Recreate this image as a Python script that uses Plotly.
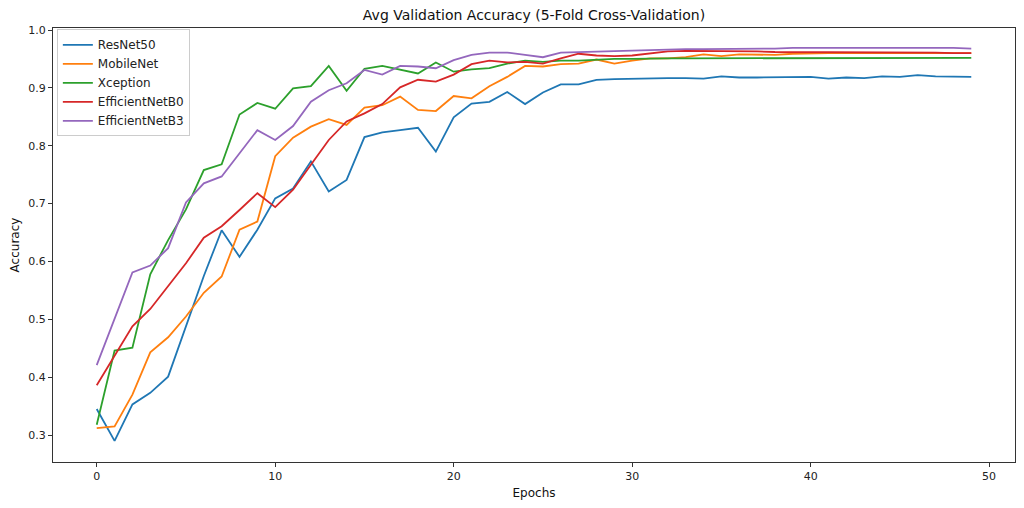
import plotly.graph_objects as go

epochs = list(range(50))

resnet50 = [0.345, 0.290, 0.353, 0.373, 0.401, 0.490, 0.575, 0.654, 0.608, 0.655,
            0.709, 0.726, 0.773, 0.721, 0.741, 0.815, 0.823, 0.827, 0.831, 0.790,
            0.849, 0.873, 0.876, 0.893, 0.872, 0.892, 0.906, 0.906, 0.914, 0.915,
            0.916, 0.917, 0.917, 0.917, 0.916, 0.920, 0.918, 0.918, 0.918, 0.919,
            0.919, 0.916, 0.918, 0.917, 0.920, 0.919, 0.922, 0.920, 0.919, 0.919]

mobilenet = [0.312, 0.315, 0.370, 0.443, 0.469, 0.505, 0.546, 0.574, 0.655, 0.669,
             0.782, 0.814, 0.833, 0.846, 0.836, 0.866, 0.870, 0.885, 0.862, 0.860,
             0.886, 0.882, 0.903, 0.919, 0.938, 0.937, 0.941, 0.942, 0.949, 0.942,
             0.947, 0.951, 0.951, 0.953, 0.958, 0.955, 0.958, 0.958, 0.957, 0.959,
             0.960, 0.960, 0.960, 0.960, 0.961, 0.961, 0.961, 0.961, 0.960, 0.960]

xception = [0.318, 0.446, 0.451, 0.578, 0.637, 0.690, 0.758, 0.768, 0.854, 0.874,
            0.864, 0.899, 0.903, 0.938, 0.895, 0.933, 0.938, 0.931, 0.925, 0.944,
            0.928, 0.932, 0.934, 0.942, 0.947, 0.945, 0.947, 0.947, 0.949, 0.950,
            0.950, 0.951, 0.951, 0.951, 0.951, 0.951, 0.951, 0.952, 0.952, 0.952,
            0.952, 0.952, 0.952, 0.952, 0.952, 0.952, 0.952, 0.952, 0.952, 0.952]

efficientnetb0 = [0.386, 0.436, 0.488, 0.518, 0.557, 0.597, 0.641, 0.661, 0.689, 0.718,
                  0.694, 0.724, 0.767, 0.810, 0.842, 0.856, 0.872, 0.901, 0.914, 0.911,
                  0.923, 0.941, 0.947, 0.944, 0.945, 0.942, 0.951, 0.959, 0.956, 0.955,
                  0.956, 0.960, 0.963, 0.964, 0.964, 0.964, 0.963, 0.963, 0.962, 0.962,
                  0.962, 0.962, 0.962, 0.962, 0.962, 0.962, 0.962, 0.961, 0.960, 0.960]

efficientnetb3 = [0.421, 0.500, 0.581, 0.593, 0.623, 0.702, 0.735, 0.747, 0.787, 0.827,
                  0.810, 0.834, 0.876, 0.896, 0.908, 0.931, 0.923, 0.938, 0.937, 0.934,
                  0.948, 0.957, 0.961, 0.961, 0.957, 0.953, 0.961, 0.962, 0.963, 0.964,
                  0.965, 0.966, 0.967, 0.967, 0.967, 0.967, 0.967, 0.968, 0.968, 0.969,
                  0.969, 0.970, 0.970, 0.970, 0.970, 0.970, 0.970, 0.970, 0.969, 0.968]

series = [
    ("ResNet50", resnet50, "#1f77b4"),
    ("MobileNet", mobilenet, "#ff7f0e"),
    ("Xception", xception, "#2ca02c"),
    ("EfficientNetB0", efficientnetb0, "#d62728"),
    ("EfficientNetB3", efficientnetb3, "#9467bd"),
]

fig = go.Figure()
for name, vals, color in series:
    fig.add_trace(go.Scatter(x=epochs, y=vals, mode="lines", name=name,
                             line=dict(color=color, width=1.8)))

font_family = "DejaVu Sans, sans-serif"
axis_common = dict(
    showline=True, linecolor="#333333", linewidth=1, mirror=True,
    ticks="outside", ticklen=4, tickcolor="#333333", tickwidth=1,
    showgrid=False, zeroline=False, automargin=False,
    tickfont=dict(family=font_family, size=11, color="#222222"),
)

fig.update_layout(
    width=1024, height=508,
    paper_bgcolor="white", plot_bgcolor="white",
    margin=dict(l=53, r=9, t=28, b=46),
    title=dict(text="Avg Validation Accuracy (5-Fold Cross-Validation)",
               x=(53 + 1015) / 2 / 1024, xanchor="center", y=1 - 15 / 508, yanchor="middle",
               font=dict(family=font_family, size=14, color="#111111")),
    xaxis=dict(range=[-2.45, 51.45], tickmode="linear", tick0=0, dtick=10,
               title=dict(text="Epochs", font=dict(family=font_family, size=12, color="#111111"),
                          standoff=6),
               **axis_common),
    yaxis=dict(range=[0.2535, 1.0035], tickmode="linear", tick0=0.3, dtick=0.1,
               tickformat=".1f",
               title=dict(text="Accuracy", font=dict(family=font_family, size=12, color="#111111"),
                          standoff=6),
               **axis_common),
    legend=dict(x=0.004, y=0.997, xanchor="left", yanchor="top",
                bgcolor="rgba(255,255,255,0.8)", bordercolor="#cccccc", borderwidth=1,
                font=dict(family=font_family, size=12, color="#222222"),
                tracegroupgap=0),
    showlegend=True,
)

fig.write_html("out.html", config={"displayModeBar": False},
               post_script="document.body.style.margin='0px';")
